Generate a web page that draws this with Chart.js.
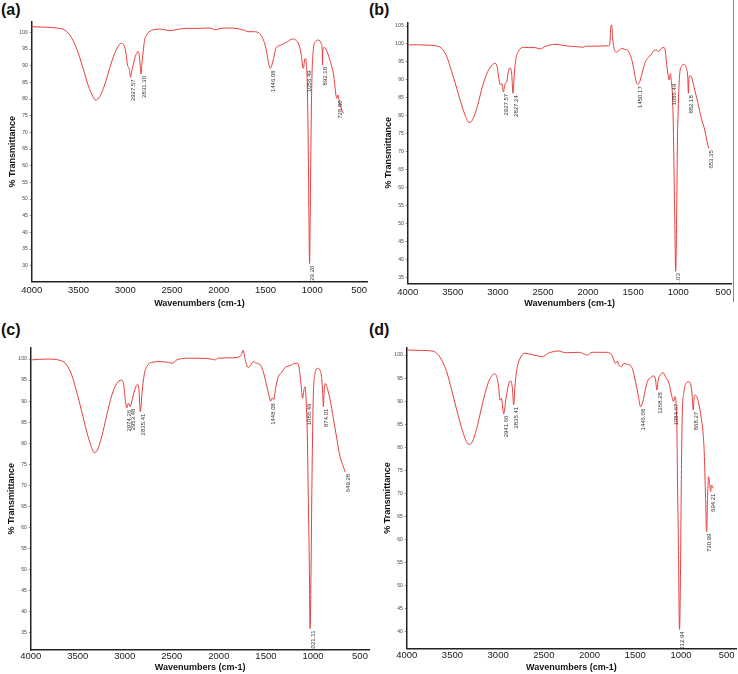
<!DOCTYPE html>
<html><head><meta charset="utf-8">
<script src="https://cdn.jsdelivr.net/npm/chart.js@4.4.1/dist/chart.umd.min.js"></script>
<style>
html,body{margin:0;padding:0;background:#fff;}
body{width:738px;height:674px;position:relative;overflow:hidden;font-family:"Liberation Sans",Arial,sans-serif;}
canvas{position:absolute;}
.tag{position:absolute;font-weight:bold;font-size:16px;line-height:16px;color:#111;}
.edge{position:absolute;background:#888;}
</style></head><body>
<div class="tag" style="left:1px;top:2px">(a)</div>
<div class="tag" style="left:369px;top:2px">(b)</div>
<div class="tag" style="left:1px;top:322px">(c)</div>
<div class="tag" style="left:369px;top:322px">(d)</div>
<div class="edge" style="left:733px;top:0;width:1px;height:302px"></div>
<canvas id="ca" style="left:0;top:0" width="370" height="318"></canvas>
<canvas id="cb" style="left:376px;top:0" width="362" height="318"></canvas>
<canvas id="cc" style="left:0;top:320px" width="370" height="354"></canvas>
<canvas id="cd" style="left:375px;top:320px" width="363" height="354"></canvas>
<script>
// ---------- data ----------
const xTicks = [4000, 3500, 3000, 2500, 2000, 1500, 1000, 500];
const yTicksA = [30,35,40,45,50,55,60,65,70,75,80,85,90,95,100];
const yTicksB = [35,40,45,50,55,60,65,70,75,80,85,90,95,100,105];
const yTicksC = [35,40,45,50,55,60,65,70,75,80,85,90,95,100];
const yTicksD = [40,45,50,55,60,65,70,75,80,85,90,95,100];

const waveA = [4000,3900,3800,3734,3663,3592,3521,3450,3397,3344,3316,3273,3220,3167,3113,3060,3043,3007,2989,2975,2965,2955,2943,2930,2918,2900,2883,2862,2850,2840,2831,2822,2812,2794,2776,2759,2706,2635,2580,2528,2493,2422,2351,2209,2150,2078,2042,1972,1900,1795,1725,1689,1619,1566,1530,1495,1470,1449,1432,1414,1389,1354,1319,1266,1213,1178,1142,1118,1096,1082,1072,1061,1054,1043,1036,1029,1022,1015,1005,991,966,931,906,895,890,886,867,842,807,772,747,736,725,711,683,666];
const transA = [101.7,101.6,101.5,101.3,100.9,99.2,95.2,89.2,84.2,80.7,79.7,80.7,84.2,89.2,93.7,96.4,96.7,95.7,93.2,90,89.6,88.8,86.5,88.5,89.8,92,93.4,94.3,93,90,87.5,90.5,93.2,97.5,99,99.8,100.7,101,100.8,100.5,100.6,101,101.2,101.2,101.3,101.2,100.8,101.2,101.3,101.1,100.6,100.2,100.2,99.7,98.2,95.2,91.2,89.2,90.2,92.2,95.2,96,96.4,97.2,98,97.7,96.2,93.2,89.2,91.7,92.2,89.2,85.2,65.2,45.2,30.6,45.2,65,85,94.2,97.2,97.7,96.7,95.2,90.2,95.2,95.4,94.2,91.2,87.2,81.2,80.2,81.2,79.2,76.7,75.7];
const peakAtA = [2943, 2831, 1449, 1061, 1029, 890, 736];
const peakTextA = ['2927.57', '2831.30', '1446.08', '1056.49', '1029.20', '892.18', '728.80'];

const waveB = [4000,3900,3800,3697,3623,3567,3512,3457,3401,3357,3320,3272,3224,3172,3113,3061,3031,3013,2987,2972,2957,2939,2920,2902,2884,2865,2847,2832,2817,2799,2773,2717,2662,2588,2532,2477,2366,2292,2218,2148,2055,2037,2000,1889,1778,1760,1749,1738,1727,1712,1686,1660,1630,1593,1556,1519,1494,1471,1453,1427,1401,1371,1342,1305,1279,1242,1216,1187,1157,1142,1131,1113,1101,1087,1076,1061,1050,1039,1028,1017,1009,1002,994,983,965,935,909,895,887,880,865,843,817,780,743,706,676,661];
const transB = [99.7,99.8,99.7,99.5,98.8,96.5,92.3,87.7,83,79.8,78.1,79.3,83,88.1,92.3,94.2,94.6,94.2,90,88.6,89,86.7,89,89.5,92.3,93.4,91.8,86.3,91.8,96,97.9,99.1,99,99,98.6,99.3,99.9,99.7,99.4,99.3,99.1,99.3,99.4,99.4,99.5,99.7,104.4,105.3,101.6,98.8,97.7,98.1,98.8,98.5,98.1,96,93.2,90,88.8,89.5,91.8,94.6,96,96.9,97.9,98.3,97.9,98.8,99,97.9,95.1,91.4,90,91.8,89.5,84,71,52.5,36.8,52.5,72.8,79.8,86.7,91.8,93.7,94.3,93.2,90.9,86.3,90.9,91.2,90,87.2,83.5,79.3,76.1,72.4,71];
const peakAtB = [2939, 2832, 1453, 1076, 1028, 887, 661];
const peakTextB = ['2927.57', '2827.24', '1450.17', '1086.49', '1031.03', '882.18', '653.35'];

const waveC = [4000,3830,3688,3617,3564,3511,3457,3404,3362,3326,3291,3245,3191,3138,3085,3039,3014,2996,2979,2961,2943,2922,2890,2865,2848,2835,2816,2794,2766,2713,2624,2535,2500,2447,2340,2199,2078,2043,2007,1865,1777,1759,1741,1730,1716,1688,1660,1635,1599,1564,1528,1493,1468,1450,1433,1418,1397,1369,1333,1305,1280,1227,1192,1163,1146,1128,1110,1093,1083,1072,1060,1049,1038,1031,1020,1013,1004,996,978,950,925,907,896,889,882,868,847,818,783,747,712,676,658];
const transC = [99.8,100,99.7,98.6,96.2,92.2,87.5,82.7,79.6,77.8,78.4,81.6,86.7,91.4,94.2,95,94.2,90.7,88.4,89.5,88.7,90.3,93,94,92.2,87.5,92.2,96.2,98.2,99.2,99.4,99.2,99,99.8,100.2,100.2,100,99.8,100.2,100.3,100.6,101.1,102.1,101,99.4,98,98.6,99.4,99,98.7,97,93.8,91.4,90,90.8,90.3,93,95.8,96.8,97.8,98.2,98.6,99,99,97.8,94.2,90.7,93,93.4,89.9,82,66.1,50.3,36,50.3,66.1,82,91.4,96.6,97.8,97.4,95.4,91.8,88.7,92.2,94.2,93,90.3,85.9,81.2,76.8,74.4,73.2];
const peakAtC = [2979, 2943, 2835, 1450, 1072, 1031, 889, 658];
const peakTextC = ['2974.26', '2953.48', '2835.41', '1448.08', '1086.49', '1021.11', '874.01', '649.28'];

const waveD = [4000,3850,3727,3672,3617,3563,3508,3453,3398,3355,3318,3282,3234,3187,3143,3096,3041,3023,2997,2979,2965,2939,2914,2888,2863,2844,2830,2815,2793,2760,2706,2633,2560,2524,2451,2341,2262,2117,2044,2026,1971,1825,1759,1734,1716,1697,1679,1650,1625,1588,1533,1497,1468,1442,1417,1395,1369,1333,1296,1278,1264,1249,1224,1198,1169,1132,1103,1081,1067,1056,1045,1037,1030,1016,1005,997,987,968,943,914,892,877,866,855,841,811,786,760,746,731,720,709,698,687,676,665,651];
const transD = [101.1,101,100.9,100.4,98.9,96.4,92.4,88.1,84.1,81.6,80.6,81.2,84.1,88.1,91.7,94.6,95.9,95.7,93.5,90.2,90.6,87.3,90.6,93.5,94.4,92.8,89.2,93.5,97.1,99.3,100.4,100.1,99.8,99.6,100.4,100.9,100.5,100.6,100.1,100,100.6,100.6,100.1,98.9,98.2,98.7,97.8,97.5,98.2,98,97.1,94.2,91.3,88.8,89.9,92,94.2,95.1,95.5,94.6,92.4,94.6,95.7,96.2,95.3,93.9,91.3,89.9,91,90.2,84.1,70.4,61.7,40.5,53.7,71.8,86.3,92,93.9,94.2,93.5,91,88.1,91,91.3,89.9,87.3,83.4,79,68.9,61.7,69.6,73.6,72.2,70.4,71.8,71.1];
const peakAtD = [2939, 2830, 1442, 1264, 1081, 1016, 866, 720, 676];
const peakTextD = ['2941.66', '2835.41', '1446.08', '1268.28', '1084.67', '1012.94', '868.27', '730.99', '694.21'];

// ---------- drawing ----------
const FAM = '"Liberation Sans", Arial, sans-serif';

function peakPlugin(wave, trans, at, text) {
  return {
    id: 'peakLabels',
    afterDatasetsDraw(chart) {
      const {ctx, chartArea: a, scales: {x, y}} = chart;
      ctx.save();
      ctx.beginPath();
      ctx.rect(a.left, a.top, a.right - a.left, a.bottom - a.top);
      ctx.clip();
      ctx.font = '6px ' + FAM;
      ctx.fillStyle = '#333';
      ctx.textAlign = 'right';
      ctx.textBaseline = 'middle';
      at.forEach((wn, i) => {
        const k = wave.indexOf(wn);
        const px = x.getPixelForValue(wn) + 3;
        const py = y.getPixelForValue(trans[k]) + 2;
        ctx.save();
        ctx.translate(px, py);
        ctx.rotate(-Math.PI / 2);
        ctx.fillText(text[i], 0, 0);
        ctx.restore();
      });
      ctx.restore();
    }
  };
}

function makeChart(id, wave, trans, at, text, yTicks, o) {
  const pts = wave.map((w, i) => ({x: w, y: trans[i]}));
  return new Chart(document.getElementById(id), {
    type: 'line',
    data: {datasets: [{data: pts, borderColor: 'rgb(232,62,62)', borderWidth: 1, pointRadius: 0,
      cubicInterpolationMode: 'monotone', fill: false}]},
    options: {
      responsive: false, animation: false, devicePixelRatio: 1,
      layout: {padding: {left: 0, top: o.padTop, right: o.padRight, bottom: 0}},
      plugins: {legend: {display: false}, tooltip: {enabled: false}},
      scales: {
        x: {
          type: 'linear', reverse: true, min: o.xMin, max: 4000,
          afterBuildTicks: s => { s.ticks = xTicks.map(v => ({value: v})); },
          afterFit: s => { s.height = o.xH; },
          grid: {display: false, drawTicks: false, tickLength: 0},
          border: {display: true, color: '#222', width: 1.5},
          ticks: {autoSkip: false, maxRotation: 0, padding: o.tickPad, color: '#1a1a1a',
            font: {size: 9.5, family: FAM}, callback: v => String(v)},
          title: {display: true, text: 'Wavenumbers (cm-1)', color: '#111',
            font: {size: 9, weight: 'bold', family: FAM}, padding: {top: 0, bottom: o.xTitlePad}}
        },
        y: {
          type: 'linear', min: o.yMin, max: o.yMax,
          afterBuildTicks: s => { s.ticks = yTicks.map(v => ({value: v})); },
          afterFit: s => { s.width = o.yW; },
          grid: {display: true, drawOnChartArea: false, drawTicks: true, tickLength: 2, color: '#666', lineWidth: 0.7},
          border: {display: true, color: '#222', width: 1.5},
          ticks: {padding: 2, color: '#444', font: {size: 5, family: FAM}, callback: v => String(v)},
          title: {display: true, text: '% Transmittance', color: '#111',
            font: {size: 9, weight: 'bold', family: FAM}, padding: {top: o.yTitlePad, bottom: 0}}
        }
      }
    },
    plugins: [peakPlugin(wave, trans, at, text)]
  });
}

makeChart('ca', waveA, transA, peakAtA, peakTextA, yTicksA,
  {padTop: 21.7, padRight: 1, yW: 31.7, xH: 36.3, xMin: 411.6, yMin: 25.2, yMax: 103.2, tickPad: 3, xTitlePad: 8.6, yTitlePad: 7.6});
makeChart('cb', waveB, transB, peakAtB, peakTextB, yTicksB,
  {padTop: 22.3, padRight: 6.3, yW: 31.7, xH: 34.7, xMin: 406.8, yMin: 33.45, yMax: 106.03, tickPad: 3, xTitlePad: 8.6, yTitlePad: 7.3});
makeChart('cc', waveC, transC, peakAtC, peakTextC, yTicksC,
  {padTop: 27.7, padRight: 0.5, yW: 30.7, xH: 24, xMin: 399, yMin: 30.9, yMax: 102.7, tickPad: 1, xTitlePad: 0.6, yTitlePad: 6.3});
makeChart('cd', waveD, transD, peakAtD, peakTextD, yTicksD,
  {padTop: 27.7, padRight: 2, yW: 31.7, xH: 25.7, xMin: 398.4, yMin: 36.4, yMax: 101.6, tickPad: 1, xTitlePad: 0.6, yTitlePad: 7.6});
</script>
</body></html>
